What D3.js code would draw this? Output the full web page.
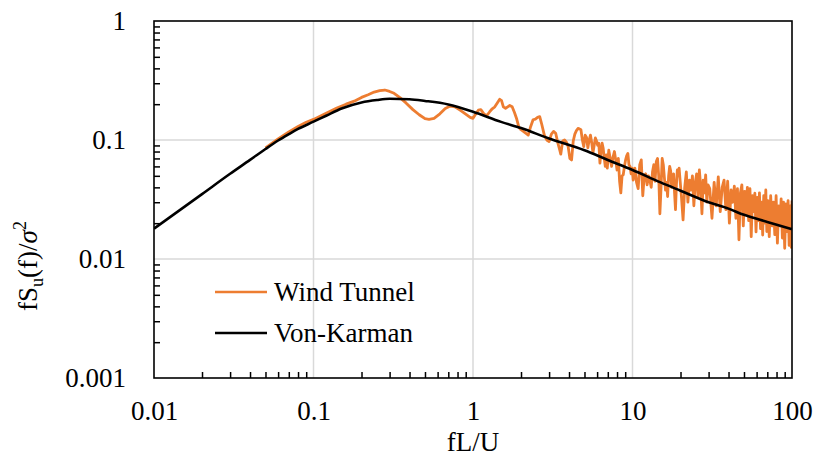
<!DOCTYPE html>
<html><head><meta charset="utf-8">
<script src="https://cdn.jsdelivr.net/npm/d3@7"></script>
<style>body{margin:0;background:#fff} svg text{font-family:'Liberation Serif','DejaVu Serif',serif !important}</style>
</head><body>
<script>
const xTickValues=[0.01,0.1,1,10,100];
const xTickLabels=["0.01","0.1","1","10","100"];
const yTickValues=[0.001,0.01,0.1,1];
const yTickLabels=["0.001","0.01","0.1","1"];
const seriesNames=["Wind Tunnel","Von-Karman"];

// Von-Karman curve (fL/U, fSu/σ²)
const vkX=[0.01,0.02,0.03,0.04,0.05,0.06,0.07,0.08,0.1,0.12,0.15,0.2,0.25,0.3,0.4,0.5,0.7,1,1.5,2,3,5,7,10,15,20,30,40,50,70,100];
const vkY=[0.018,0.0351,0.052,0.068,0.084,0.099,0.112,0.124,0.1425,0.16,0.184,0.207,0.217,0.222,0.22,0.213,0.199,0.173,0.142,0.126,0.103,0.082,0.068,0.056,0.044,0.0375,0.030,0.0265,0.0235,0.0205,0.0178];

// Wind tunnel spectrum
const wtX=[0.05,0.06,0.07,0.08,0.09,0.1,0.12,0.14,0.16,0.18,0.2,0.22,0.24,0.26,0.28,0.3,0.32,0.35,0.38,0.42,0.46,0.5,0.53,0.57,0.62,0.67,0.72,0.77,0.83,0.9,0.96,1.0,1.04,1.08,1.12,1.17,1.22,1.27,1.32,1.37,1.42,1.47,1.51,1.55,1.6,1.65,1.7,1.76,1.82,1.88,1.94,2.0,2.07,2.14,2.22,2.3,2.38,2.46,2.54,2.62,2.7,2.8,2.9,3.0,3.1,3.2,3.3,3.4,3.5,3.55,3.65,3.75,3.85,3.95,4.05,4.15,4.25,4.35,4.45,4.55,4.65,4.75,4.85,4.95,5.05,5.15,5.25,5.35,5.45,5.55,5.65,5.75,5.85,5.95,6.05,6.15,6.25,6.35,6.45,6.55,6.65,6.75,6.85,6.95,7.1,7.25,7.4,7.55,7.7,7.85,8.0,8.15,8.3,8.45,8.6,8.75,8.9,9.05,9.2,9.35,9.5,9.65,9.8,9.95,10.1,10.35,10.6,10.85,11.1,11.35,11.6,11.85,12.1,12.35,12.6,12.85,13.1,13.35,13.6,13.85,14.1,14.35,14.6,14.85,15.1,15.35,15.6,15.85,16.1,16.35,16.6,16.85,17.1,17.35,17.6,17.85,18.1,18.35,18.6,18.85,19.1,19.35,19.6,19.85,20.25,20.75,21.25,21.75,22.25,22.75,23.25,23.75,24.25,24.75,25.25,25.75,26.25,26.75,27.25,27.75,28.25,28.75,29.25,29.75,30.5,31.5,32.5,33.5,34.5,35.5,36.5,37.5,38.5,39.5,40.5,41.5,42.5,43.5,44.5,45.5,46.5,47.5,48.5,49.5,50.5,51.5,52.5,53.5,54.5,55.5,56.5,57.5,58.5,59.5,60.5,61.5,62.5,63.5,64.5,65.5,66.5,67.5,68.5,69.5,70.5,72,73.5,75,76.5,78,79.5,81,82.5,84,85.5,87,88.5,90,91.5,93,94.5,96,97.5,99,100];
const wtY=[0.086,0.102,0.117,0.13,0.141,0.149,0.168,0.186,0.2,0.212,0.228,0.24,0.253,0.26,0.263,0.256,0.247,0.226,0.205,0.18,0.163,0.151,0.149,0.152,0.166,0.184,0.193,0.19,0.178,0.165,0.155,0.152,0.165,0.178,0.18,0.166,0.16,0.172,0.183,0.19,0.205,0.22,0.214,0.19,0.185,0.19,0.195,0.19,0.17,0.15,0.128,0.122,0.118,0.114,0.11,0.13,0.148,0.15,0.155,0.157,0.135,0.11,0.1,0.097,0.112,0.118,0.114,0.095,0.082,0.076,0.098,0.1,0.096,0.088,0.07,0.068,0.098,0.112,0.12,0.125,0.124,0.122,0.1,0.088,0.11,0.105,0.086,0.1,0.11,0.095,0.078,0.09,0.104,0.098,0.09,0.094,0.064,0.08,0.094,0.085,0.07,0.06,0.075,0.058,0.082,0.07,0.06,0.072,0.08,0.068,0.056,0.07,0.045,0.036,0.05,0.051,0.06,0.068,0.074,0.077,0.062,0.06,0.052,0.058,0.046,0.058,0.044,0.039,0.062,0.068,0.034,0.05,0.052,0.042,0.05,0.046,0.04,0.054,0.062,0.045,0.066,0.07,0.05,0.024,0.04,0.07,0.062,0.048,0.038,0.044,0.0335,0.05,0.06,0.055,0.04,0.046,0.052,0.036,0.026,0.042,0.056,0.05,0.058,0.047,0.034,0.0213,0.04,0.054,0.03,0.046,0.038,0.05,0.028,0.044,0.052,0.033,0.056,0.041,0.024,0.046,0.036,0.051,0.03,0.042,0.039,0.022,0.044,0.028,0.049,0.025,0.04,0.046,0.026,0.045,0.02,0.038,0.03,0.041,0.022,0.039,0.0145,0.036,0.042,0.019,0.037,0.024,0.04,0.021,0.039,0.0154,0.034,0.025,0.0357,0.0169,0.033,0.021,0.036,0.018,0.03,0.0159,0.034,0.02,0.038,0.017,0.031,0.0154,0.034,0.019,0.03,0.016,0.034,0.0136,0.028,0.019,0.032,0.015,0.03,0.0123,0.029,0.017,0.031,0.013,0.028,0.0125,0.031];

const W=817,H=461;
const FONT="'Liberation Serif','DejaVu Serif',serif";
const svg=d3.select("body").append("svg").attr("width",W).attr("height",H).style("font-family",FONT);
const x=d3.scaleLog().domain([0.01,100]).range([154,792]);
const y=d3.scaleLog().domain([0.001,1]).range([378,21]);
const grid="#d9d9d9";

// gridlines
svg.append("g").selectAll("line").data(yTickValues.slice(1,3)).join("line")
  .attr("x1",154).attr("x2",792).attr("y1",d=>y(d)).attr("y2",d=>y(d))
  .attr("stroke",grid).attr("stroke-width",1.5);
svg.append("g").selectAll("line").data(xTickValues.slice(1,4)).join("line")
  .attr("y1",21).attr("y2",378).attr("x1",d=>x(d)).attr("x2",d=>x(d))
  .attr("stroke",grid).attr("stroke-width",1.5);

// minor ticks
const minorX=[],minorY=[];
xTickValues.slice(0,-1).forEach(d=>{for(let k=2;k<10;k++)minorX.push(d*k);});
yTickValues.slice(0,-1).forEach(d=>{for(let k=2;k<10;k++)minorY.push(d*k);});
const gmx=svg.append("g").attr("transform","translate(0,378)")
  .call(d3.axisBottom(x).tickValues(minorX).tickSize(-6).tickFormat(""));
const gmy=svg.append("g").attr("transform","translate(154,0)")
  .call(d3.axisLeft(y).tickValues(minorY).tickSize(-6).tickFormat(""));
[gmx,gmy].forEach(g=>{g.select(".domain").remove();g.selectAll("line").attr("stroke","#000").attr("stroke-width",1.5);});

// tick labels
const gx=svg.append("g").attr("transform","translate(0,378)")
  .call(d3.axisBottom(x).tickValues(xTickValues).tickSize(0).tickPadding(23).tickFormat((d,i)=>xTickLabels[i]));
const gy=svg.append("g").attr("transform","translate(154,0)")
  .call(d3.axisLeft(y).tickValues(yTickValues).tickSize(0).tickPadding(28).tickFormat((d,i)=>yTickLabels[yTickValues.indexOf(d)]));
[gx,gy].forEach(g=>{g.attr("font-family",FONT);g.select(".domain").remove();g.selectAll("text").attr("font-size",27).attr("fill","#000").attr("font-family",FONT);});

// clip
svg.append("clipPath").attr("id","clip").append("rect").attr("x",154).attr("y",21).attr("width",638).attr("height",357);

const line=d3.line().x(d=>x(d[0])).y(d=>y(d[1]));
svg.append("path").datum(wtX.map((d,i)=>[d,wtY[i]])).attr("d",line)
  .attr("fill","none").attr("stroke","#ED7D31").attr("stroke-width",2.8).attr("stroke-linejoin","round").attr("clip-path","url(#clip)");
svg.append("path").datum(vkX.map((d,i)=>[d,vkY[i]])).attr("d",line.curve(d3.curveMonotoneX))
  .attr("fill","none").attr("stroke","#000").attr("stroke-width",2.6).attr("clip-path","url(#clip)");

// frame
svg.append("rect").attr("x",154).attr("y",21).attr("width",638).attr("height",357)
  .attr("fill","none").attr("stroke","#000").attr("stroke-width",1.6);

// axis titles
svg.append("text").attr("x",473).attr("y",451).attr("text-anchor","middle").attr("font-size",27).attr("font-family",FONT).text("fL/U");
const yl=svg.append("text").attr("transform","translate(37,266) rotate(-90)").attr("text-anchor","middle").attr("font-size",27).attr("font-family",FONT);
yl.append("tspan").text("fS");
yl.append("tspan").attr("font-size",18).attr("dy",6).text("u");
yl.append("tspan").attr("dy",-6).text("(f)/");
yl.append("tspan").attr("font-style","italic").text("σ");
yl.append("tspan").attr("font-size",18).attr("dy",-11).text("2");

// legend
const leg=[{c:"#ED7D31",y:292,w:2.4},{c:"#000",y:333,w:2.6}];
leg.forEach((l,i)=>{
  svg.append("line").attr("x1",215).attr("x2",267).attr("y1",l.y).attr("y2",l.y).attr("stroke",l.c).attr("stroke-width",l.w);
  svg.append("text").attr("x",274).attr("y",l.y+9).attr("font-size",27).attr("font-family",FONT).text(seriesNames[i]);
});
</script>
</body></html>
